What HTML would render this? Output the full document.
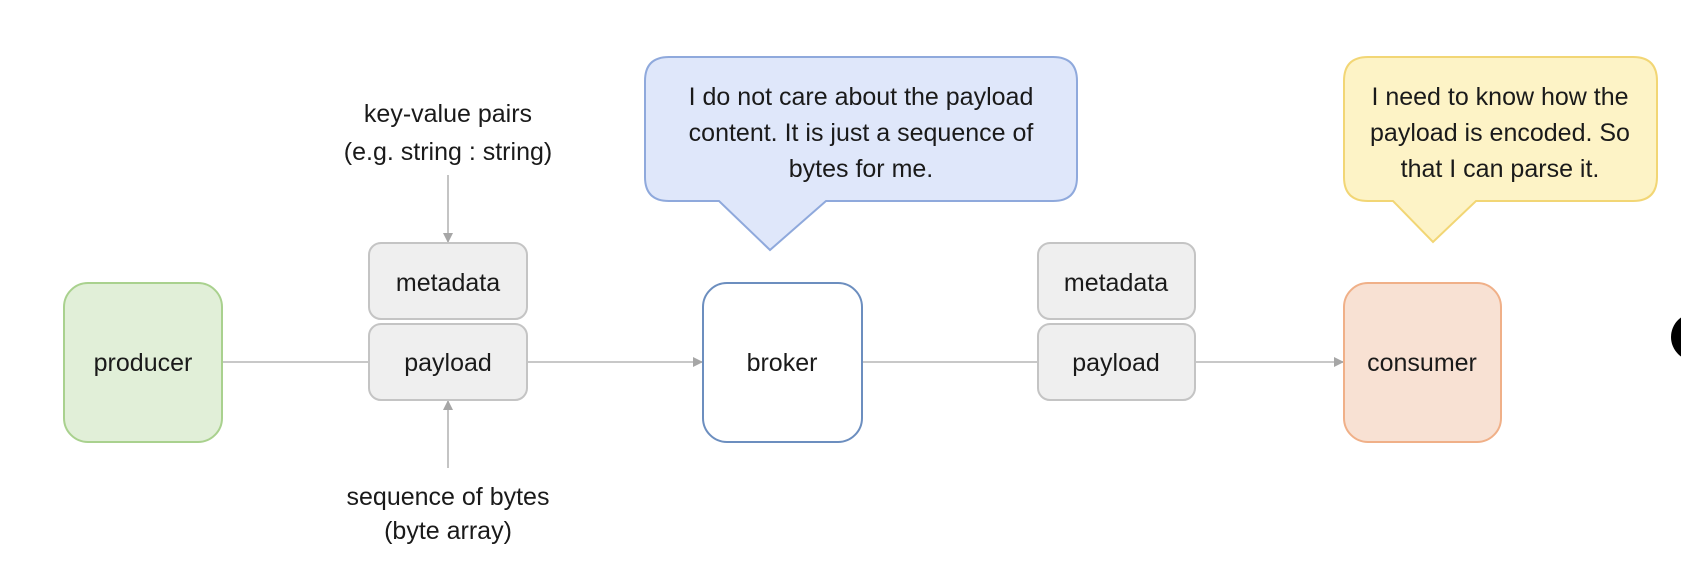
<!DOCTYPE html>
<html><head><meta charset="utf-8"><style>
html,body{margin:0;padding:0;background:#fff;}
svg{display:block;}
text{font-family:"Liberation Sans",sans-serif;fill:#1a1a1a;}
</style></head><body>
<svg width="1681" height="585" viewBox="0 0 1681 585" xmlns="http://www.w3.org/2000/svg">
<defs>
<marker id="ah" viewBox="0 0 10 10" refX="10" refY="5" markerWidth="10" markerHeight="10" markerUnits="userSpaceOnUse" orient="auto">
<path d="M0,0 L10,5 L0,10 z" fill="#a6a6a6"/>
</marker>
</defs>
<rect width="1681" height="585" fill="#fff"/>
<line x1="222" y1="362" x2="369" y2="362" stroke="#c8c8c8" stroke-width="2"/>
<line x1="527" y1="362" x2="703" y2="362" stroke="#c8c8c8" stroke-width="2" marker-end="url(#ah)"/>
<line x1="862" y1="362" x2="1038" y2="362" stroke="#c8c8c8" stroke-width="2"/>
<line x1="1195" y1="362" x2="1344" y2="362" stroke="#c8c8c8" stroke-width="2" marker-end="url(#ah)"/>
<line x1="448" y1="175" x2="448" y2="243" stroke="#b0b0b0" stroke-width="1.5" marker-end="url(#ah)"/>
<line x1="448" y1="468" x2="448" y2="400" stroke="#b0b0b0" stroke-width="1.5" marker-end="url(#ah)"/>
<rect x="64" y="283" width="158" height="159" rx="24" fill="#e1efd8" stroke="#a9d18e" stroke-width="2"/>
<text x="143" y="371" font-size="25" text-anchor="middle">producer</text>
<rect x="369" y="243" width="158" height="76" rx="12" fill="#efefef" stroke="#c4c4c4" stroke-width="2"/>
<text x="448" y="291" font-size="25" text-anchor="middle">metadata</text>
<rect x="369" y="324" width="158" height="76" rx="12" fill="#efefef" stroke="#c4c4c4" stroke-width="2"/>
<text x="448" y="371" font-size="25" text-anchor="middle">payload</text>
<rect x="703" y="283" width="159" height="159" rx="24" fill="#fff" stroke="#6c8ebf" stroke-width="2"/>
<text x="782" y="371" font-size="25" text-anchor="middle">broker</text>
<rect x="1038" y="243" width="157" height="76" rx="12" fill="#efefef" stroke="#c4c4c4" stroke-width="2"/>
<text x="1116" y="291" font-size="25" text-anchor="middle">metadata</text>
<rect x="1038" y="324" width="157" height="76" rx="12" fill="#efefef" stroke="#c4c4c4" stroke-width="2"/>
<text x="1116" y="371" font-size="25" text-anchor="middle">payload</text>
<rect x="1344" y="283" width="157" height="159" rx="24" fill="#f8e1d3" stroke="#f0b088" stroke-width="2"/>
<text x="1422" y="371" font-size="25" text-anchor="middle">consumer</text>
<text x="448" y="122" font-size="25" text-anchor="middle">key-value pairs</text>
<text x="448" y="160" font-size="25" text-anchor="middle">(e.g. string : string)</text>
<text x="448" y="505" font-size="25" text-anchor="middle">sequence of bytes</text>
<text x="448" y="539" font-size="25" text-anchor="middle">(byte array)</text>
<path d="M669,57 H1053 Q1077,57 1077,81 V177 Q1077,201 1053,201 H826 L770,250 L719,201 H669 Q645,201 645,177 V81 Q645,57 669,57 Z" fill="#dfe7fa" stroke="#8fa9dc" stroke-width="2"/>
<text x="861" y="105" font-size="25" text-anchor="middle">I do not care about the payload</text>
<text x="861" y="141" font-size="25" text-anchor="middle">content. It is just a sequence of</text>
<text x="861" y="177" font-size="25" text-anchor="middle">bytes for me.</text>
<path d="M1368,57 H1633 Q1657,57 1657,81 V177 Q1657,201 1633,201 H1476 L1433,242 L1393,201 H1368 Q1344,201 1344,177 V81 Q1344,57 1368,57 Z" fill="#fdf3c6" stroke="#f2d675" stroke-width="2"/>
<text x="1500" y="105" font-size="25" text-anchor="middle">I need to know how the</text>
<text x="1500" y="141" font-size="25" text-anchor="middle">payload is encoded. So</text>
<text x="1500" y="177" font-size="25" text-anchor="middle">that I can parse it.</text>
<circle cx="1695" cy="337" r="24" fill="#000"/>
</svg>
</body></html>
